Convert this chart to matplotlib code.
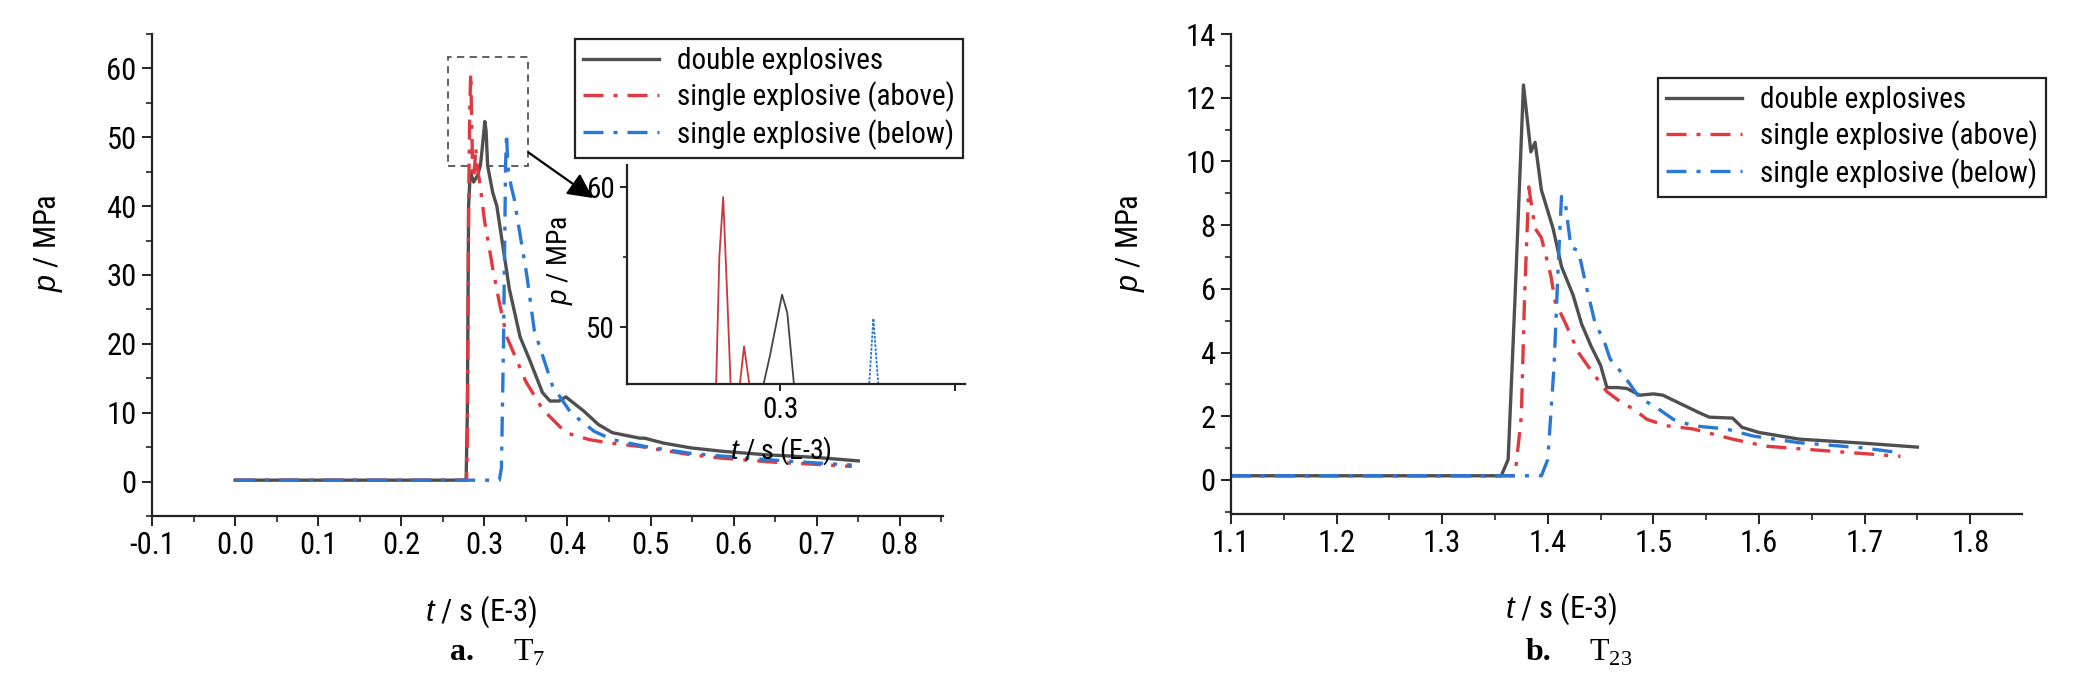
import matplotlib
matplotlib.use("Agg")
import matplotlib.pyplot as plt
from matplotlib import font_manager as fm
from matplotlib.ticker import MultipleLocator, FormatStrFormatter

# ---- data ----
# a. T7
t7_double = [0.0, 0.278, 0.2795, 0.281, 0.283, 0.287, 0.292, 0.2952, 0.297, 0.3005, 0.302, 0.3039,
             0.31, 0.315, 0.33, 0.343, 0.354, 0.37, 0.379, 0.39, 0.398, 0.42, 0.437, 0.454,
             0.487, 0.493, 0.515, 0.548, 0.586, 0.638, 0.7, 0.75]
p7_double = [0.2, 0.2, 10, 40, 45.0, 43.5, 44.5, 45.9, 47.9, 52.3, 51, 45.9,
             42, 40, 28, 21, 17.8, 12.9, 11.7, 11.7, 12.3, 10.2, 8.3, 7.1,
             6.3, 6.3, 5.6, 4.9, 4.4, 3.9, 3.5, 3.0]

t7_above = [0.0, 0.2785, 0.2795, 0.281, 0.2825, 0.2836, 0.2848, 0.2858, 0.287, 0.2884, 0.2896, 0.2911,
            0.295, 0.30, 0.31, 0.318, 0.327, 0.35, 0.37, 0.398, 0.426, 0.45, 0.487, 0.548,
            0.586, 0.65, 0.7, 0.742]
p7_above = [0.2, 0.2, 5, 40, 55, 59.3, 52, 45.5, 44, 45.9, 48.6, 45.9,
            43, 38, 31, 26, 21, 14.5, 10.5, 7.1, 6.1, 5.6, 5.1, 3.9,
            3.4, 2.8, 2.5, 2.2]

t7_below = [0.0, 0.318, 0.3205, 0.323, 0.3255, 0.3267, 0.3281, 0.332, 0.336, 0.34, 0.351, 0.36,
            0.382, 0.404, 0.432, 0.454, 0.493, 0.548, 0.586, 0.65, 0.7, 0.742]
p7_below = [0.2, 0.2, 2, 20, 45.9, 50.6, 45.9, 43, 41, 38, 30, 22,
            13.9, 10, 7.3, 6.1, 5.1, 4.1, 3.7, 3.1, 2.7, 2.4]

# b. T23
t23_double = [1.1, 1.356, 1.3625, 1.369, 1.377, 1.384, 1.388, 1.394, 1.405, 1.413, 1.424, 1.432,
              1.441, 1.45, 1.456, 1.466, 1.475, 1.487, 1.5, 1.509, 1.544, 1.553, 1.575, 1.584,
              1.6, 1.638, 1.7, 1.75]
p23_double = [0.13, 0.13, 0.64, 5.7, 12.4, 10.3, 10.6, 9.1, 7.9, 6.7, 5.8, 4.9,
              4.2, 3.6, 2.9, 2.9, 2.87, 2.66, 2.7, 2.66, 2.1, 1.97, 1.94, 1.65,
              1.49, 1.28, 1.15, 1.03]

t23_above = [1.1, 1.369, 1.375, 1.378, 1.382, 1.388, 1.394, 1.403, 1.407, 1.417, 1.429, 1.444,
             1.456, 1.469, 1.481, 1.494, 1.5125, 1.5375, 1.575, 1.606, 1.669, 1.734]
p23_above = [0.13, 0.13, 2.0, 5.7, 9.2, 7.9, 7.6, 6.4, 5.6, 4.9, 4.0, 3.3,
             2.77, 2.45, 2.23, 1.9, 1.7, 1.6, 1.28, 1.06, 0.9, 0.74]

t23_below = [1.1, 1.394, 1.4, 1.406, 1.41, 1.413, 1.417, 1.422, 1.429, 1.437, 1.445, 1.453,
             1.459, 1.469, 1.478, 1.4875, 1.5, 1.519, 1.5375, 1.569, 1.594, 1.6375, 1.7, 1.734]
p23_below = [0.13, 0.13, 0.64, 3.6, 6.8, 8.9, 8.6, 7.3, 7.2, 6.0, 4.9, 4.4,
             3.8, 3.4, 3.0, 2.55, 2.34, 1.9, 1.7, 1.6, 1.38, 1.17, 1.0, 0.85]

labels = ["double explosives", "single explosive (above)", "single explosive (below)"]

# zoom window of the inset
zoom_t = (0.256, 0.353)
zoom_p = (45.9, 61.6)


# ---- font: the original uses a narrow Arial-like face; take one if installed ----
def find_narrow():
    wanted = ["LiberationSansNarrow-Regular", "RobotoCondensed-Regular", "DejaVuSansCondensed.",
              "OpenSans_Condensed-Regular", "OpenSansCondensed-Regular", "NotoSans-Condensed."]
    files = [f for f in fm.fontManager.ttflist]
    for w in wanted:
        for f in files:
            if w.lower() in f.fname.lower().replace(" ", ""):
                return f
    for f in files:
        n = f.fname.lower()
        if ("narrow" in n or "condensed" in n) and "bold" not in n and "italic" not in n \
                and "oblique" not in n and "mono" not in n and "serif" not in n:
            return f
    return None


narrow = find_narrow()
if narrow is not None:
    plt.rcParams["font.family"] = [narrow.name, "Liberation Sans", "DejaVu Sans"]
    plt.rcParams["font.stretch"] = narrow.stretch
    FS = 22
    FS_LEG = 21
else:
    plt.rcParams["font.family"] = ["Liberation Sans", "DejaVu Sans"]
    FS = 19.5
    FS_LEG = 19
plt.rcParams["mathtext.fontset"] = "custom"
plt.rcParams["mathtext.it"] = "Liberation Sans:italic"
plt.rcParams["mathtext.rm"] = "Liberation Serif"

c_black = "#4f4f4f"
c_red = "#e0393e"
c_blue = "#2878d6"
dashdot = (6, 3, 1.2, 3)


def style_axes(ax, fs):
    for s in ["top", "right"]:
        ax.spines[s].set_visible(False)
    for s in ["left", "bottom"]:
        ax.spines[s].set_linewidth(1.6)
        ax.spines[s].set_color("#222222")
    ax.tick_params(which="major", direction="out", length=7, width=1.4, labelsize=fs, pad=4,
                   color="#222222")
    ax.tick_params(which="minor", direction="out", length=4, width=1.2, color="#222222")


def draw_curves(ax, data):
    (td, pd_), (ta, pa), (tb, pb) = data
    ax.plot(td, pd_, color=c_black, lw=2.4, label=labels[0])
    ax.plot(ta, pa, color=c_red, lw=2.4, dashes=dashdot, label=labels[1])
    ax.plot(tb, pb, color=c_blue, lw=2.4, dashes=dashdot, label=labels[2])


def add_legend(ax, x_px, y_px):
    leg = ax.legend(loc="upper left", bbox_to_anchor=(x_px / 2074, 1 - y_px / 690),
                    bbox_transform=fig.transFigure, fontsize=FS_LEG, frameon=True, fancybox=False,
                    framealpha=1, edgecolor="#222222", handlelength=2.6, borderpad=0.3,
                    labelspacing=0.22, handletextpad=0.6)
    leg.get_frame().set_linewidth(1.6)
    return leg


fig = plt.figure(figsize=(20.74, 6.9), dpi=100)

# ---- panel a ----
ax1 = fig.add_axes([0.0733, 0.2522, 0.3814, 0.6985])
draw_curves(ax1, [(t7_double, p7_double), (t7_above, p7_above), (t7_below, p7_below)])
ax1.set_xlim(-0.1, 0.852)
ax1.set_ylim(-5, 65)
ax1.xaxis.set_major_locator(MultipleLocator(0.1))
ax1.xaxis.set_minor_locator(MultipleLocator(0.05))
ax1.yaxis.set_major_locator(MultipleLocator(10))
ax1.yaxis.set_minor_locator(MultipleLocator(5))
ax1.xaxis.set_major_formatter(FormatStrFormatter("%.1f"))
style_axes(ax1, FS)
ax1.set_xlabel("$t$ / s (E-3)", fontsize=FS)
ax1.set_ylabel("$p$ / MPa", fontsize=FS)
ax1.xaxis.set_label_coords(0.416, -0.16)
ax1.yaxis.set_label_coords(-0.11, 0.566)

# dashed zoom box and arrow
ax1.add_patch(plt.Rectangle((zoom_t[0], zoom_p[0]), zoom_t[1] - zoom_t[0], zoom_p[1] - zoom_p[0],
                            fill=False, ls=(0, (4, 3)), lw=1.3, ec="#555555"))
ax1.annotate("", xy=(0.2859, 0.713), xycoords="figure fraction",
             xytext=(zoom_t[1], 47.8), textcoords="data",
             arrowprops=dict(arrowstyle="-|>", mutation_scale=38, lw=1.6, color="black",
                             shrinkA=0, shrinkB=0))
add_legend(ax1, 560, 24)

# inset (transparent so it does not hide the legend frame)
axi = fig.add_axes([0.3023, 0.4435, 0.163, 0.3174])
axi.patch.set_alpha(0)
axi.plot(t7_double, p7_double, color="#444444", lw=1.3)
axi.plot(t7_above, p7_above, color="#c8383c", lw=1.3)
axi.plot(t7_below, p7_below, color=c_blue, lw=1.3, ls=(0, (1.5, 0.8)))
axi.set_xlim(*zoom_t)
axi.set_ylim(*zoom_p)
axi.set_xticks([0.3, 0.35], ["0.3", ""])
axi.set_yticks([50, 60])
axi.yaxis.set_minor_locator(MultipleLocator(5))
style_axes(axi, FS - 1)
axi.tick_params(which="major", length=5)
axi.tick_params(which="minor", length=3)
axi.set_xlabel("$t$ / s (E-3)", fontsize=FS - 2)
axi.set_ylabel("$p$ / MPa", fontsize=FS - 2)
axi.xaxis.set_label_coords(0.456, -0.23)
axi.yaxis.set_label_coords(-0.154, 0.566)

# ---- panel b ----
ax2 = fig.add_axes([0.5935, 0.2551, 0.3814, 0.6956])
draw_curves(ax2, [(t23_double, p23_double), (t23_above, p23_above), (t23_below, p23_below)])
ax2.set_xlim(1.1, 1.849)
ax2.set_ylim(-1.07, 14)
ax2.xaxis.set_major_locator(MultipleLocator(0.1))
ax2.xaxis.set_minor_locator(MultipleLocator(0.05))
ax2.yaxis.set_major_locator(MultipleLocator(2))
ax2.yaxis.set_minor_locator(MultipleLocator(1))
ax2.xaxis.set_major_formatter(FormatStrFormatter("%.1f"))
style_axes(ax2, FS)
ax2.set_xlabel("$t$ / s (E-3)", fontsize=FS)
ax2.set_ylabel("$p$ / MPa", fontsize=FS)
ax2.xaxis.set_label_coords(0.417, -0.16)
ax2.yaxis.set_label_coords(-0.106, 0.565)
add_legend(ax2, 1643, 63)

# ---- captions ----
cap_y = 1 - 653 / 690
fig.text(462 / 2074, cap_y, "a.", fontsize=23, fontweight="bold", family="Liberation Serif",
         ha="center", va="center")
fig.text(529 / 2074, cap_y, r"$\mathrm{T}_{7}$", fontsize=23, ha="center", va="center")
fig.text(1538 / 2074, cap_y, "b.", fontsize=23, fontweight="bold", family="Liberation Serif",
         ha="center", va="center")
fig.text(1611 / 2074, cap_y, r"$\mathrm{T}_{23}$", fontsize=23, ha="center", va="center")

fig.savefig("out.png", dpi=100, facecolor="white")
